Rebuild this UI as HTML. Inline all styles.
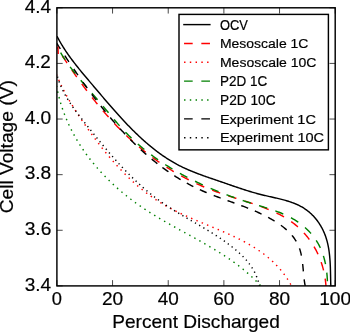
<!DOCTYPE html>
<html><head><meta charset="utf-8"><style>
html,body{margin:0;padding:0;background:#fff;width:350px;height:332px;overflow:hidden}
svg{position:absolute;left:0;top:0;display:block;will-change:transform}
text{font-family:"Liberation Sans",sans-serif;fill:#000;stroke:#000;stroke-width:0.2px}
</style></head><body>
<svg width="350" height="332" viewBox="0 0 350 332">
<defs><clipPath id="ax"><rect x="56.9" y="7.8" width="278.30" height="278.10"/></clipPath></defs>
<rect x="0" y="0" width="350" height="332" fill="#fff"/>
<g clip-path="url(#ax)" fill="none" stroke-width="1.44">
<path d="M57.00,36.25 L57.47,37.16 L57.95,38.06 L58.43,38.96 L58.92,39.85 L59.41,40.74 L59.91,41.62 L60.42,42.50 L60.93,43.37 L61.44,44.24 L61.97,45.10 L62.49,45.96 L63.02,46.82 L63.56,47.67 L64.10,48.51 L64.64,49.36 L65.19,50.19 L65.74,51.03 L66.30,51.86 L66.86,52.69 L67.43,53.51 L68.00,54.33 L68.57,55.14 L69.15,55.96 L69.73,56.77 L70.32,57.57 L70.91,58.38 L71.50,59.18 L72.09,59.97 L72.69,60.77 L73.29,61.56 L73.90,62.35 L74.50,63.14 L75.11,63.93 L75.73,64.71 L76.34,65.49 L76.96,66.27 L77.58,67.05 L78.20,67.82 L78.83,68.60 L79.45,69.37 L80.08,70.14 L80.71,70.91 L81.34,71.68 L81.98,72.44 L82.61,73.21 L83.25,73.97 L83.89,74.74 L84.53,75.50 L85.17,76.27 L85.81,77.03 L86.45,77.79 L87.10,78.55 L87.74,79.31 L88.39,80.07 L89.03,80.84 L89.68,81.60 L90.33,82.36 L90.97,83.12 L91.62,83.88 L92.27,84.64 L92.91,85.41 L93.56,86.17 L94.21,86.94 L94.86,87.70 L95.50,88.47 L96.15,89.23 L96.80,90.00 L97.45,90.76 L98.10,91.53 L98.74,92.29 L99.39,93.06 L100.04,93.83 L100.69,94.59 L101.34,95.36 L101.99,96.12 L102.65,96.89 L103.30,97.66 L103.95,98.42 L104.60,99.19 L105.26,99.95 L105.91,100.71 L106.57,101.48 L107.22,102.24 L107.88,103.00 L108.54,103.77 L109.20,104.53 L109.86,105.29 L110.52,106.05 L111.18,106.81 L111.84,107.56 L112.50,108.32 L113.17,109.08 L113.83,109.83 L114.50,110.59 L115.17,111.34 L115.84,112.09 L116.51,112.84 L117.18,113.59 L117.85,114.34 L118.52,115.09 L119.20,115.84 L119.88,116.58 L120.56,117.32 L121.23,118.06 L121.92,118.80 L122.60,119.54 L123.28,120.28 L123.97,121.01 L124.66,121.75 L125.35,122.48 L126.04,123.21 L126.73,123.93 L127.42,124.66 L128.12,125.38 L128.82,126.10 L129.52,126.82 L130.22,127.54 L130.92,128.26 L131.63,128.97 L132.34,129.68 L133.05,130.39 L133.76,131.09 L134.47,131.80 L135.19,132.50 L135.91,133.20 L136.63,133.89 L137.35,134.58 L138.07,135.27 L138.80,135.96 L139.53,136.65 L140.26,137.33 L141.00,138.01 L141.73,138.68 L142.47,139.36 L143.22,140.03 L143.96,140.69 L144.71,141.36 L145.46,142.02 L146.21,142.67 L146.96,143.33 L147.72,143.98 L148.48,144.62 L149.24,145.27 L150.01,145.90 L150.78,146.54 L151.55,147.17 L152.32,147.80 L153.10,148.42 L153.88,149.04 L154.66,149.65 L155.45,150.26 L156.23,150.87 L157.03,151.47 L157.82,152.07 L158.62,152.66 L159.42,153.24 L160.22,153.83 L161.03,154.41 L161.84,154.98 L162.66,155.55 L163.47,156.11 L164.29,156.67 L165.12,157.22 L165.94,157.77 L166.78,158.31 L167.61,158.85 L168.45,159.38 L169.29,159.91 L170.13,160.43 L170.98,160.94 L171.83,161.45 L172.69,161.96 L173.55,162.46 L174.41,162.95 L175.28,163.43 L176.15,163.91 L177.02,164.39 L177.90,164.85 L178.78,165.32 L179.66,165.77 L180.55,166.22 L181.45,166.66 L182.34,167.10 L183.24,167.53 L184.15,167.95 L185.05,168.37 L185.97,168.78 L186.88,169.19 L187.80,169.59 L188.71,169.99 L189.64,170.38 L190.56,170.77 L191.49,171.16 L192.42,171.53 L193.35,171.91 L194.28,172.28 L195.22,172.65 L196.16,173.01 L197.10,173.37 L198.04,173.73 L198.98,174.08 L199.93,174.43 L200.87,174.78 L201.82,175.13 L202.77,175.47 L203.71,175.81 L204.66,176.15 L205.61,176.48 L206.57,176.82 L207.52,177.15 L208.47,177.48 L209.42,177.81 L210.37,178.14 L211.33,178.46 L212.28,178.79 L213.23,179.12 L214.18,179.44 L215.13,179.76 L216.08,180.09 L217.03,180.41 L217.98,180.74 L218.93,181.06 L219.87,181.39 L220.82,181.71 L221.76,182.04 L222.71,182.36 L223.65,182.69 L224.59,183.02 L225.53,183.34 L226.47,183.67 L227.41,184.00 L228.35,184.32 L229.29,184.65 L230.23,184.97 L231.17,185.30 L232.11,185.62 L233.05,185.95 L233.99,186.27 L234.92,186.59 L235.86,186.91 L236.80,187.23 L237.74,187.55 L238.68,187.86 L239.63,188.18 L240.57,188.49 L241.51,188.80 L242.46,189.11 L243.40,189.41 L244.35,189.72 L245.30,190.02 L246.25,190.32 L247.20,190.62 L248.15,190.91 L249.10,191.21 L250.06,191.50 L251.01,191.78 L251.97,192.07 L252.94,192.35 L253.90,192.62 L254.86,192.90 L255.83,193.17 L256.80,193.44 L257.78,193.70 L258.75,193.96 L259.73,194.21 L260.71,194.46 L261.69,194.71 L262.68,194.96 L263.67,195.19 L264.66,195.43 L265.66,195.66 L266.65,195.89 L267.65,196.12 L268.65,196.35 L269.65,196.58 L270.65,196.80 L271.65,197.03 L272.65,197.25 L273.65,197.48 L274.65,197.70 L275.65,197.93 L276.65,198.17 L277.64,198.40 L278.64,198.64 L279.63,198.88 L280.61,199.12 L281.60,199.37 L282.58,199.63 L283.56,199.89 L284.54,200.15 L285.51,200.43 L286.47,200.71 L287.43,200.99 L288.39,201.29 L289.34,201.59 L290.28,201.91 L291.22,202.23 L292.15,202.56 L293.08,202.90 L294.00,203.25 L294.91,203.62 L295.81,203.99 L296.71,204.38 L297.59,204.78 L298.47,205.19 L299.34,205.62 L300.20,206.06 L301.05,206.52 L301.89,206.99 L302.72,207.47 L303.54,207.98 L304.34,208.49 L305.14,209.03 L305.93,209.58 L306.70,210.14 L307.47,210.72 L308.22,211.31 L308.96,211.92 L309.69,212.54 L310.41,213.18 L311.12,213.83 L311.81,214.49 L312.49,215.17 L313.17,215.86 L313.82,216.57 L314.47,217.28 L315.11,218.01 L315.73,218.75 L316.34,219.51 L316.93,220.27 L317.52,221.05 L318.09,221.84 L318.65,222.63 L319.19,223.45 L319.72,224.27 L320.24,225.10 L320.75,225.94 L321.24,226.79 L321.72,227.66 L322.18,228.53 L322.63,229.41 L323.07,230.30 L323.49,231.20 L323.90,232.11 L324.30,233.02 L324.68,233.95 L325.04,234.88 L325.39,235.83 L325.73,236.78 L326.05,237.73 L326.36,238.70 L326.65,239.67 L326.93,240.65 L327.19,241.63 L327.44,242.62 L327.68,243.62 L327.90,244.62 L328.11,245.63 L328.31,246.64 L328.50,247.65 L328.67,248.67 L328.84,249.69 L328.99,250.72 L329.14,251.75 L329.27,252.78 L329.40,253.81 L329.51,254.85 L329.62,255.88 L329.72,256.92 L329.81,257.96 L329.90,259.00 L329.97,260.04 L330.05,261.08 L330.11,262.11 L330.17,263.15 L330.22,264.19 L330.27,265.22 L330.32,266.25 L330.36,267.28 L330.39,268.31 L330.42,269.33 L330.45,270.35 L330.48,271.36 L330.50,272.38 L330.53,273.38 L330.55,274.39 L330.57,275.38 L330.59,276.37 L330.61,277.36 L330.63,278.34 L330.65,279.31 L330.67,280.28 L330.69,281.23 L330.71,282.18 L330.74,283.13 L330.77,284.06 L330.80,284.99 L330.83,285.90 L330.87,286.81" stroke="#000"/>
<path d="M56.45,47.04 L56.65,47.35 L56.85,47.66 L57.05,47.97 L57.25,48.28 L57.46,48.60 L57.56,48.76 M62.26,55.89 L62.99,56.98 L63.82,58.22 L64.65,59.47 L65.48,60.71 L66.32,61.95 L67.01,62.98 M71.84,70.02 L72.60,71.11 L73.47,72.34 L74.33,73.58 L75.20,74.81 L76.08,76.05 L76.75,77.00 M81.76,83.91 L82.52,84.95 L83.31,86.02 L84.11,87.08 L84.90,88.15 L85.70,89.21 L86.50,90.27 L86.87,90.75 M92.09,97.50 L92.90,98.54 L93.73,99.58 L94.56,100.62 L95.40,101.65 L96.24,102.69 L97.08,103.72 L97.43,104.16 M102.91,110.70 L103.67,111.59 L104.54,112.60 L105.42,113.60 L106.29,114.60 L107.17,115.60 L108.06,116.59 L108.53,117.12 M114.31,123.41 L115.12,124.27 L116.04,125.24 L116.96,126.19 L117.88,127.15 L118.81,128.09 L119.74,129.04 L120.24,129.54 M126.34,135.51 L127.32,136.44 L128.43,137.47 L129.54,138.50 L130.65,139.52 L131.77,140.53 L132.62,141.29 M139.07,146.88 L140.05,147.70 L141.06,148.54 L142.08,149.37 L143.11,150.20 L144.13,151.03 L145.17,151.85 L145.69,152.27 M152.48,157.44 L153.56,158.23 L154.77,159.12 L156.00,159.99 L157.22,160.86 L158.46,161.72 L159.43,162.40 M166.54,167.12 L167.69,167.86 L168.97,168.66 L170.24,169.46 L171.52,170.24 L172.81,171.02 L173.80,171.61 M181.20,175.85 L182.27,176.44 L183.43,177.07 L184.59,177.69 L185.76,178.30 L186.92,178.91 L188.10,179.51 L188.75,179.84 M196.43,183.57 L197.59,184.10 L198.79,184.65 L200.00,185.19 L201.20,185.72 L202.42,186.25 L203.63,186.77 L204.23,187.02 M212.16,190.20 L213.29,190.63 L214.53,191.09 L215.78,191.54 L217.02,191.99 L218.28,192.44 L219.53,192.88 L220.18,193.11 M228.27,195.82 L229.45,196.20 L230.72,196.61 L231.99,197.02 L233.27,197.42 L234.54,197.83 L235.81,198.23 L236.40,198.42 M244.54,201.00 L245.65,201.35 L246.93,201.76 L248.20,202.18 L249.48,202.59 L250.75,203.01 L252.02,203.43 L252.65,203.64 M260.72,206.44 L261.95,206.89 L263.20,207.36 L264.45,207.83 L265.69,208.31 L266.93,208.80 L268.16,209.30 L268.68,209.51 M276.48,212.97 L277.63,213.54 L278.81,214.12 L279.97,214.72 L281.13,215.34 L282.27,215.96 L283.41,216.60 L284.03,216.96 M291.20,221.57 L292.26,222.35 L293.44,223.24 L294.61,224.15 L295.75,225.09 L296.88,226.04 L297.87,226.90 M303.93,232.90 L304.90,233.98 L305.87,235.11 L306.81,236.25 L307.74,237.41 L308.65,238.59 L309.34,239.50 M314.04,246.62 L314.71,247.79 L315.44,249.11 L316.15,250.44 L316.83,251.78 L317.49,253.14 L317.98,254.19 M321.15,262.11 L321.52,263.22 L321.93,264.50 L322.32,265.78 L322.70,267.08 L323.05,268.38 L323.39,269.69 L323.54,270.30 M325.16,278.68 L325.35,279.97 L325.52,281.33 L325.67,282.69 L325.80,284.05 L325.91,285.41 L326.01,286.78 L326.03,287.17" stroke="#ff0000"/>
<path d="M56.46,74.41 L56.76,75.16 L57.06,75.91 L57.37,76.66 L57.68,77.41 L57.99,78.16 L58.31,78.90 L58.63,79.64 L58.96,80.38 L59.29,81.12 L59.62,81.86 L59.95,82.60 L60.29,83.33 L60.64,84.06 L60.98,84.80 L61.33,85.53 L61.68,86.25 L62.04,86.98 L62.40,87.71 L62.76,88.43 L63.13,89.15 L63.49,89.87 L63.87,90.59 L64.24,91.31 L64.62,92.03 L65.00,92.75 L65.38,93.46 L65.77,94.17 L66.15,94.89 L66.55,95.60 L66.94,96.31 L67.34,97.01 L67.74,97.72 L68.14,98.43 L68.54,99.13 L68.95,99.84 L69.36,100.54 L69.77,101.24 L70.18,101.94 L70.60,102.64 L71.02,103.34 L71.44,104.04 L71.86,104.73 L72.29,105.43 L72.71,106.12 L73.14,106.82 L73.57,107.51 L74.01,108.20 L74.44,108.89 L74.88,109.58 L75.32,110.27 L75.76,110.96 L76.20,111.65 L76.65,112.34 L77.09,113.02 L77.54,113.71 L77.99,114.39 L78.44,115.08 L78.89,115.76 L79.34,116.45 L79.80,117.13 L80.26,117.81 L80.71,118.49 L81.17,119.17 L81.63,119.85 L82.09,120.53 L82.56,121.21 L83.02,121.89 L83.49,122.56 L83.95,123.24 L84.42,123.92 L84.89,124.60 L85.35,125.27 L85.82,125.95 L86.30,126.62 L86.77,127.30 L87.24,127.97 L87.71,128.64 L88.19,129.32 L88.67,129.99 L89.14,130.66 L89.62,131.33 L90.10,132.00 L90.58,132.67 L91.06,133.34 L91.54,134.01 L92.03,134.68 L92.51,135.34 L93.00,136.01 L93.49,136.68 L93.97,137.34 L94.46,138.00 L94.96,138.67 L95.45,139.33 L95.94,139.99 L96.43,140.65 L96.93,141.31 L97.43,141.97 L97.93,142.62 L98.43,143.28 L98.93,143.93 L99.43,144.59 L99.93,145.24 L100.44,145.89 L100.94,146.54 L101.45,147.19 L101.96,147.84 L102.47,148.49 L102.98,149.13 L103.49,149.78 L104.00,150.42 L104.52,151.06 L105.04,151.70 L105.55,152.34 L106.07,152.98 L106.60,153.62 L107.12,154.25 L107.64,154.89 L108.17,155.52 L108.69,156.15 L109.22,156.78 L109.75,157.41 L110.28,158.03 L110.82,158.66 L111.35,159.28 L111.89,159.90 L112.42,160.52 L112.96,161.14 L113.50,161.76 L114.04,162.38 L114.59,162.99 L115.13,163.60 L115.68,164.21 L116.23,164.82 L116.78,165.43 L117.33,166.03 L117.88,166.64 L118.44,167.24 L118.99,167.84 L119.55,168.43 L120.11,169.03 L120.67,169.62 L121.24,170.22 L121.80,170.81 L122.37,171.39 L122.94,171.98 L123.51,172.56 L124.08,173.15 L124.65,173.73 L125.23,174.30 L125.81,174.88 L126.39,175.45 L126.97,176.03 L127.55,176.60 L128.13,177.16 L128.72,177.73 L129.31,178.29 L129.90,178.85 L130.49,179.41 L131.08,179.97 L131.68,180.52 L132.28,181.07 L132.88,181.62 L133.48,182.17 L134.08,182.71 L134.69,183.25 L135.29,183.79 L135.90,184.33 L136.51,184.86 L137.13,185.40 L137.74,185.93 L138.36,186.45 L138.98,186.98 L139.60,187.50 L140.22,188.02 L140.85,188.53 L141.47,189.05 L142.10,189.56 L142.73,190.07 L143.37,190.57 L144.00,191.08 L144.64,191.58 L145.28,192.08 L145.92,192.57 L146.56,193.06 L147.21,193.55 L147.86,194.04 L148.51,194.52 L149.16,195.00 L149.82,195.48 L150.47,195.95 L151.13,196.43 L151.79,196.90 L152.46,197.36 L153.12,197.82 L153.79,198.28 L154.46,198.74 L155.13,199.19 L155.81,199.64 L156.48,200.09 L157.16,200.54 L157.84,200.98 L158.53,201.42 L159.21,201.85 L159.90,202.28 L160.59,202.71 L161.29,203.13 L161.98,203.56 L162.68,203.97 L163.38,204.39 L164.08,204.80 L164.79,205.21 L165.50,205.62 L166.20,206.02 L166.92,206.42 L167.63,206.81 L168.34,207.21 L169.06,207.60 L169.78,207.99 L170.50,208.37 L171.23,208.75 L171.95,209.13 L172.68,209.51 L173.41,209.89 L174.14,210.26 L174.87,210.63 L175.60,210.99 L176.34,211.36 L177.08,211.72 L177.82,212.08 L178.56,212.44 L179.30,212.80 L180.04,213.15 L180.78,213.51 L181.53,213.86 L182.28,214.21 L183.02,214.55 L183.77,214.90 L184.52,215.24 L185.28,215.58 L186.03,215.92 L186.78,216.26 L187.54,216.60 L188.29,216.93 L189.05,217.27 L189.81,217.60 L190.57,217.93 L191.33,218.26 L192.09,218.59 L192.85,218.92 L193.61,219.25 L194.37,219.58 L195.13,219.90 L195.90,220.23 L196.66,220.55 L197.42,220.87 L198.19,221.19 L198.95,221.52 L199.72,221.84 L200.49,222.16 L201.25,222.48 L202.02,222.80 L202.79,223.11 L203.55,223.43 L204.32,223.75 L205.09,224.07 L205.85,224.39 L206.62,224.70 L207.39,225.02 L208.15,225.34 L208.92,225.66 L209.69,225.97 L210.45,226.29 L211.22,226.61 L211.98,226.93 L212.75,227.25 L213.52,227.57 L214.28,227.89 L215.04,228.21 L215.81,228.53 L216.57,228.85 L217.33,229.17 L218.10,229.49 L218.86,229.81 L219.62,230.14 L220.38,230.46 L221.14,230.79 L221.90,231.11 L222.65,231.44 L223.41,231.77 L224.17,232.10 L224.92,232.43 L225.67,232.76 L226.43,233.10 L227.18,233.43 L227.93,233.77 L228.68,234.10 L229.43,234.44 L230.17,234.78 L230.92,235.13 L231.66,235.47 L232.41,235.82 L233.15,236.16 L233.89,236.51 L234.63,236.86 L235.36,237.22 L236.10,237.57 L236.83,237.93 L237.57,238.29 L238.30,238.65 L239.02,239.01 L239.75,239.38 L240.48,239.75 L241.20,240.12 L241.92,240.49 L242.64,240.87 L243.36,241.24 L244.07,241.63 L244.79,242.01 L245.50,242.39 L246.21,242.78 L246.91,243.17 L247.62,243.57 L248.32,243.97 L249.02,244.37 L249.72,244.77 L250.41,245.18 L251.11,245.59 L251.80,246.00 L252.48,246.41 L253.17,246.83 L253.85,247.26 L254.53,247.68 L255.21,248.11 L255.89,248.54 L256.56,248.98 L257.23,249.42 L257.89,249.86 L258.56,250.31 L259.22,250.76 L259.88,251.22 L260.53,251.68 L261.18,252.14 L261.83,252.61 L262.48,253.08 L263.12,253.55 L263.76,254.03 L264.39,254.52 L265.03,255.01 L265.66,255.50 L266.28,255.99 L266.90,256.50 L267.52,257.00 L268.14,257.51 L268.75,258.03 L269.36,258.55 L269.96,259.07 L270.57,259.60 L271.16,260.13 L271.76,260.67 L272.35,261.21 L272.93,261.76 L273.52,262.32 L274.10,262.87 L274.67,263.44 L275.24,264.01 L275.81,264.58 L276.37,265.16 L276.93,265.75 L277.48,266.34 L278.03,266.93 L278.58,267.53 L279.12,268.14 L279.66,268.75 L280.19,269.37 L280.72,269.99 L281.25,270.62 L281.77,271.26 L282.28,271.90 L282.79,272.55 L283.30,273.20 L283.80,273.86 L284.30,274.53 L284.79,275.20 L285.28,275.88 L285.76,276.56 L286.24,277.25 L286.71,277.95 L287.18,278.65 L287.65,279.36 L288.11,280.08 L288.56,280.80 L289.01,281.53 L289.45,282.27 L289.89,283.01 L290.32,283.76 L290.75,284.52 L291.17,285.28 L291.59,286.06 L292.00,286.83" stroke="#ff0000" stroke-dasharray="1.44 4.32"/>
<path d="M60.62,52.57 L61.23,53.60 L61.92,54.76 L62.63,55.91 L63.34,57.05 L64.07,58.18 L64.80,59.30 L65.15,59.83 M70.08,66.83 L70.85,67.86 L71.65,68.92 L72.46,69.98 L73.27,71.03 L74.09,72.07 L74.92,73.12 L75.32,73.61 M80.77,80.22 L81.57,81.16 L82.43,82.18 L83.29,83.19 L84.16,84.20 L85.03,85.20 L85.90,86.21 L86.34,86.72 M91.97,93.18 L92.78,94.11 L93.66,95.13 L94.53,96.14 L95.41,97.15 L96.28,98.17 L97.15,99.19 L97.56,99.67 M103.06,106.23 L103.81,107.14 L104.67,108.17 L105.53,109.21 L106.39,110.25 L107.25,111.29 L108.11,112.33 L108.52,112.83 M114.02,119.39 L114.79,120.29 L115.67,121.31 L116.55,122.33 L117.43,123.35 L118.32,124.36 L119.21,125.37 L119.64,125.85 M125.45,132.14 L126.37,133.10 L127.31,134.05 L128.25,135.00 L129.20,135.95 L130.15,136.88 L131.11,137.81 L131.51,138.19 M137.83,143.98 L138.71,144.75 L139.71,145.62 L140.73,146.48 L141.75,147.34 L142.77,148.19 L143.80,149.03 L144.37,149.50 M151.13,154.76 L152.05,155.45 L153.13,156.24 L154.20,157.02 L155.28,157.80 L156.37,158.57 L157.46,159.33 L158.08,159.77 M165.20,164.53 L166.32,165.24 L167.45,165.95 L168.58,166.66 L169.71,167.36 L170.84,168.06 L171.99,168.75 L172.48,169.04 M179.89,173.33 L180.89,173.89 L182.06,174.53 L183.24,175.17 L184.41,175.80 L185.59,176.43 L186.77,177.05 L187.43,177.40 M195.07,181.25 L196.13,181.77 L197.34,182.35 L198.54,182.92 L199.75,183.49 L200.96,184.05 L202.17,184.61 L202.82,184.91 M210.65,188.38 L211.75,188.85 L212.98,189.37 L214.21,189.88 L215.44,190.39 L216.67,190.90 L217.90,191.40 L218.56,191.67 M226.53,194.78 L227.66,195.20 L228.91,195.67 L230.17,196.13 L231.42,196.59 L232.68,197.04 L233.94,197.49 L234.58,197.72 M242.68,200.50 L243.91,200.91 L245.19,201.33 L246.48,201.74 L247.76,202.15 L249.05,202.56 L250.34,202.97 L250.83,203.12 M259.02,205.62 L260.18,205.97 L261.48,206.36 L262.79,206.76 L264.09,207.16 L265.38,207.57 L266.68,207.97 L267.21,208.14 M275.32,210.88 L276.56,211.33 L277.82,211.80 L279.07,212.28 L280.32,212.77 L281.55,213.28 L282.78,213.80 L283.29,214.01 M291.00,217.75 L292.13,218.37 L293.27,219.03 L294.40,219.70 L295.51,220.39 L296.62,221.11 L297.71,221.83 L298.29,222.23 M305.02,227.52 L306.03,228.42 L307.11,229.44 L308.16,230.48 L309.20,231.55 L310.20,232.63 L311.05,233.59 M316.22,240.41 L316.91,241.51 L317.59,242.62 L318.24,243.76 L318.87,244.91 L319.48,246.08 L320.06,247.26 L320.36,247.90 M323.41,255.90 L323.77,257.09 L324.14,258.40 L324.49,259.71 L324.82,261.04 L325.12,262.37 L325.41,263.71 L325.51,264.20 M326.79,272.66 L326.93,274.03 L327.06,275.40 L327.16,276.78 L327.25,278.15 L327.32,279.52 L327.38,280.89 L327.39,281.20" stroke="#008000"/>
<path d="M56.53,85.80 L56.67,86.56 L56.81,87.31 L56.95,88.06 L57.10,88.81 L57.25,89.55 L57.41,90.30 L57.56,91.04 L57.72,91.79 L57.89,92.53 L58.06,93.27 L58.23,94.01 L58.40,94.74 L58.58,95.48 L58.77,96.21 L58.95,96.95 L59.14,97.68 L59.33,98.41 L59.53,99.13 L59.73,99.86 L59.93,100.59 L60.13,101.31 L60.34,102.03 L60.55,102.75 L60.77,103.47 L60.99,104.19 L61.21,104.90 L61.44,105.62 L61.66,106.33 L61.90,107.04 L62.13,107.75 L62.37,108.46 L62.61,109.17 L62.85,109.88 L63.10,110.58 L63.35,111.28 L63.61,111.98 L63.86,112.68 L64.12,113.38 L64.39,114.08 L64.65,114.77 L64.92,115.47 L65.20,116.16 L65.47,116.85 L65.75,117.54 L66.03,118.22 L66.32,118.91 L66.61,119.59 L66.90,120.28 L67.19,120.96 L67.49,121.64 L67.79,122.32 L68.09,122.99 L68.40,123.67 L68.70,124.34 L69.02,125.01 L69.33,125.68 L69.65,126.35 L69.97,127.02 L70.29,127.69 L70.62,128.35 L70.95,129.01 L71.28,129.67 L71.61,130.33 L71.95,130.99 L72.29,131.65 L72.63,132.30 L72.98,132.96 L73.33,133.61 L73.68,134.26 L74.03,134.91 L74.39,135.55 L74.75,136.20 L75.11,136.84 L75.48,137.48 L75.84,138.13 L76.21,138.76 L76.59,139.40 L76.96,140.04 L77.34,140.67 L77.72,141.30 L78.10,141.94 L78.49,142.57 L78.88,143.19 L79.27,143.82 L79.66,144.44 L80.06,145.07 L80.46,145.69 L80.86,146.31 L81.26,146.93 L81.67,147.54 L82.08,148.16 L82.49,148.77 L82.90,149.39 L83.32,150.00 L83.74,150.60 L84.16,151.21 L84.58,151.82 L85.01,152.42 L85.44,153.02 L85.87,153.62 L86.30,154.22 L86.74,154.82 L87.17,155.42 L87.61,156.01 L88.06,156.60 L88.50,157.19 L88.95,157.78 L89.40,158.37 L89.85,158.95 L90.30,159.54 L90.76,160.12 L91.22,160.70 L91.68,161.28 L92.14,161.86 L92.60,162.44 L93.07,163.01 L93.54,163.58 L94.01,164.15 L94.49,164.72 L94.96,165.29 L95.44,165.86 L95.92,166.42 L96.40,166.98 L96.89,167.54 L97.37,168.10 L97.86,168.66 L98.35,169.22 L98.84,169.77 L99.34,170.32 L99.84,170.88 L100.33,171.42 L100.83,171.97 L101.34,172.52 L101.84,173.06 L102.35,173.60 L102.86,174.15 L103.37,174.68 L103.88,175.22 L104.39,175.76 L104.91,176.29 L105.43,176.82 L105.95,177.36 L106.47,177.88 L106.99,178.41 L107.52,178.94 L108.05,179.46 L108.58,179.98 L109.11,180.50 L109.64,181.02 L110.17,181.54 L110.71,182.05 L111.25,182.57 L111.79,183.08 L112.33,183.59 L112.87,184.10 L113.42,184.60 L113.96,185.11 L114.51,185.61 L115.06,186.11 L115.61,186.61 L116.17,187.11 L116.72,187.61 L117.28,188.10 L117.84,188.60 L118.40,189.09 L118.96,189.58 L119.52,190.06 L120.09,190.55 L120.65,191.03 L121.22,191.52 L121.79,192.00 L122.36,192.48 L122.93,192.95 L123.51,193.43 L124.08,193.90 L124.66,194.37 L125.24,194.84 L125.82,195.31 L126.40,195.78 L126.98,196.24 L127.56,196.71 L128.15,197.17 L128.74,197.63 L129.32,198.08 L129.91,198.54 L130.51,198.99 L131.10,199.45 L131.69,199.90 L132.29,200.35 L132.88,200.79 L133.48,201.24 L134.08,201.68 L134.68,202.12 L135.28,202.56 L135.88,203.00 L136.48,203.44 L137.09,203.87 L137.70,204.30 L138.30,204.73 L138.91,205.16 L139.52,205.59 L140.13,206.02 L140.74,206.44 L141.36,206.86 L141.97,207.28 L142.59,207.70 L143.20,208.12 L143.82,208.53 L144.44,208.94 L145.06,209.35 L145.68,209.76 L146.30,210.17 L146.92,210.58 L147.55,210.98 L148.17,211.39 L148.80,211.79 L149.42,212.19 L150.05,212.59 L150.68,212.98 L151.31,213.38 L151.94,213.77 L152.57,214.17 L153.20,214.56 L153.83,214.95 L154.47,215.34 L155.10,215.72 L155.74,216.11 L156.37,216.50 L157.01,216.88 L157.64,217.26 L158.28,217.64 L158.92,218.03 L159.56,218.41 L160.20,218.78 L160.84,219.16 L161.48,219.54 L162.12,219.91 L162.76,220.29 L163.40,220.66 L164.05,221.03 L164.69,221.40 L165.33,221.78 L165.98,222.15 L166.62,222.51 L167.27,222.88 L167.91,223.25 L168.56,223.62 L169.21,223.98 L169.85,224.35 L170.50,224.71 L171.15,225.08 L171.80,225.44 L172.44,225.81 L173.09,226.17 L173.74,226.53 L174.39,226.89 L175.04,227.25 L175.69,227.61 L176.34,227.97 L176.99,228.33 L177.64,228.69 L178.29,229.05 L178.94,229.41 L179.59,229.77 L180.24,230.13 L180.89,230.48 L181.54,230.84 L182.19,231.20 L182.84,231.56 L183.49,231.91 L184.14,232.27 L184.79,232.63 L185.44,232.99 L186.09,233.34 L186.74,233.70 L187.39,234.06 L188.04,234.41 L188.69,234.77 L189.34,235.13 L189.99,235.49 L190.64,235.84 L191.29,236.20 L191.94,236.56 L192.59,236.92 L193.24,237.28 L193.89,237.63 L194.54,237.99 L195.18,238.35 L195.83,238.71 L196.48,239.07 L197.13,239.43 L197.77,239.79 L198.42,240.15 L199.06,240.52 L199.71,240.88 L200.35,241.24 L201.00,241.60 L201.64,241.97 L202.29,242.33 L202.93,242.70 L203.57,243.06 L204.21,243.43 L204.85,243.80 L205.49,244.17 L206.13,244.54 L206.77,244.90 L207.41,245.28 L208.05,245.65 L208.69,246.02 L209.33,246.39 L209.96,246.77 L210.60,247.14 L211.23,247.52 L211.87,247.89 L212.50,248.27 L213.13,248.65 L213.76,249.03 L214.39,249.41 L215.02,249.79 L215.65,250.18 L216.28,250.56 L216.91,250.95 L217.54,251.34 L218.16,251.72 L218.79,252.11 L219.41,252.51 L220.03,252.90 L220.65,253.29 L221.28,253.69 L221.89,254.08 L222.51,254.48 L223.13,254.88 L223.75,255.28 L224.36,255.68 L224.98,256.09 L225.59,256.49 L226.20,256.90 L226.81,257.31 L227.42,257.72 L228.03,258.13 L228.64,258.55 L229.25,258.96 L229.85,259.38 L230.45,259.80 L231.06,260.22 L231.66,260.64 L232.26,261.07 L232.86,261.49 L233.45,261.92 L234.05,262.35 L234.64,262.79 L235.23,263.22 L235.83,263.66 L236.42,264.10 L237.01,264.54 L237.59,264.98 L238.18,265.42 L238.76,265.87 L239.34,266.32 L239.93,266.77 L240.50,267.22 L241.08,267.68 L241.66,268.14 L242.23,268.60 L242.81,269.06 L243.38,269.53 L243.95,269.99 L244.52,270.46 L245.08,270.93 L245.65,271.41 L246.21,271.89 L246.77,272.37 L247.33,272.85 L247.89,273.33 L248.44,273.82 L249.00,274.31 L249.55,274.80 L250.10,275.30 L250.65,275.80 L251.20,276.30 L251.74,276.80 L252.28,277.31 L252.83,277.82 L253.36,278.33 L253.90,278.84 L254.44,279.36 L254.97,279.88 L255.50,280.40 L256.03,280.93 L256.56,281.46 L257.08,281.99 L257.60,282.53 L258.12,283.06 L258.64,283.61 L259.16,284.15 L259.67,284.70 L260.19,285.25 L260.70,285.80 L261.20,286.36" stroke="#008000" stroke-dasharray="1.44 4.32"/>
<path d="M56.36,42.77 L56.98,43.74 L57.66,44.77 L58.33,45.81 L59.01,46.85 L59.68,47.89 L60.36,48.93 L60.39,48.98 M64.78,55.65 L65.47,56.70 L66.17,57.75 L66.86,58.80 L67.56,59.84 L68.27,60.89 L68.88,61.81 M73.74,69.00 L74.37,69.91 L75.09,70.96 L75.81,72.01 L76.54,73.06 L77.27,74.11 L77.95,75.09 M82.86,82.07 L83.60,83.11 L84.35,84.15 L85.11,85.20 L85.86,86.24 L86.62,87.29 L87.19,88.07 M91.77,94.27 L92.54,95.30 L93.32,96.33 L94.11,97.37 L94.89,98.40 L95.68,99.43 L96.24,100.16 M100.85,106.06 L101.61,107.01 L102.42,108.03 L103.23,109.04 L104.04,110.05 L104.86,111.06 L105.49,111.83 M110.27,117.57 L111.03,118.47 L111.87,119.45 L112.71,120.44 L113.56,121.42 L114.41,122.40 L115.10,123.18 M120.08,128.75 L120.95,129.71 L121.83,130.66 L122.71,131.61 L123.59,132.55 L124.48,133.49 L125.12,134.17 M130.41,139.62 L131.30,140.51 L132.21,141.42 L133.13,142.32 L134.05,143.23 L134.97,144.12 L135.68,144.81 M140.82,149.64 L141.67,150.41 L142.63,151.28 L143.58,152.14 L144.54,152.99 L145.50,153.84 L146.34,154.57 M151.64,159.06 L152.62,159.87 L153.62,160.68 L154.61,161.48 L155.61,162.28 L156.62,163.07 L157.41,163.69 M162.40,167.48 L163.30,168.14 L164.34,168.89 L165.37,169.64 L166.41,170.37 L167.45,171.11 L168.43,171.78 M174.34,175.72 L175.33,176.36 L176.41,177.04 L177.49,177.71 L178.57,178.38 L179.66,179.04 L180.63,179.62 M186.79,183.15 L187.88,183.74 L189.00,184.35 L190.13,184.94 L191.27,185.53 L192.40,186.12 L193.34,186.59 M199.88,189.72 L200.98,190.21 L202.15,190.73 L203.33,191.25 L204.51,191.76 L205.69,192.26 L206.67,192.66 M213.72,195.47 L214.76,195.87 L215.97,196.33 L217.18,196.79 L218.39,197.24 L219.60,197.69 L220.65,198.07 M227.52,200.57 L228.65,200.98 L229.87,201.41 L231.09,201.85 L232.31,202.29 L233.53,202.73 L234.48,203.08 M241.21,205.55 L242.37,205.99 L243.58,206.45 L244.79,206.91 L245.99,207.38 L247.19,207.85 L248.12,208.21 M254.82,210.98 L255.85,211.43 L257.02,211.94 L258.19,212.47 L259.35,213.00 L260.51,213.54 L261.56,214.03 M268.13,217.36 L269.13,217.90 L270.24,218.52 L271.35,219.15 L272.45,219.79 L273.54,220.44 L274.55,221.05 M280.90,225.29 L281.85,225.98 L282.85,226.75 L283.84,227.53 L284.82,228.33 L285.78,229.15 L286.66,229.93 M291.98,235.40 L292.72,236.30 L293.48,237.28 L294.21,238.28 L294.92,239.30 L295.60,240.34 L296.25,241.41 L296.26,241.43 M299.49,248.39 L299.81,249.33 L300.14,250.40 L300.45,251.48 L300.74,252.58 L301.01,253.69 L301.25,254.81 L301.40,255.53 M302.65,263.98 L302.76,265.00 L302.88,266.16 L303.00,267.32 L303.10,268.48 L303.21,269.64 L303.31,270.79 L303.36,271.35 M304.16,279.46 L304.29,280.50 L304.46,281.70 L304.65,282.87 L304.85,284.01 L305.07,285.13 L305.31,286.21 L305.42,286.66" stroke="#000"/>
<path d="M57.51,76.58 L57.73,77.33 L57.95,78.08 L58.18,78.81 L58.42,79.55 L58.66,80.28 L58.91,81.00 L59.16,81.72 L59.42,82.44 L59.69,83.15 L59.96,83.86 L60.24,84.57 L60.52,85.27 L60.81,85.97 L61.11,86.66 L61.41,87.35 L61.72,88.03 L62.03,88.71 L62.35,89.39 L62.67,90.07 L63.00,90.74 L63.33,91.41 L63.67,92.07 L64.01,92.73 L64.35,93.39 L64.70,94.05 L65.06,94.70 L65.42,95.35 L65.79,96.00 L66.15,96.64 L66.53,97.28 L66.90,97.92 L67.28,98.56 L67.67,99.19 L68.06,99.82 L68.45,100.45 L68.84,101.07 L69.24,101.70 L69.65,102.32 L70.05,102.94 L70.46,103.56 L70.87,104.17 L71.29,104.78 L71.71,105.40 L72.13,106.01 L72.55,106.61 L72.98,107.22 L73.41,107.82 L73.84,108.43 L74.27,109.03 L74.71,109.63 L75.15,110.23 L75.59,110.83 L76.03,111.42 L76.47,112.02 L76.92,112.61 L77.37,113.21 L77.82,113.80 L78.27,114.39 L78.72,114.98 L79.18,115.57 L79.63,116.16 L80.09,116.75 L80.55,117.34 L81.00,117.93 L81.46,118.52 L81.92,119.10 L82.39,119.69 L82.85,120.28 L83.31,120.86 L83.77,121.45 L84.24,122.04 L84.70,122.63 L85.16,123.21 L85.63,123.80 L86.09,124.39 L86.56,124.97 L87.02,125.56 L87.49,126.15 L87.95,126.74 L88.42,127.32 L88.89,127.91 L89.35,128.50 L89.82,129.09 L90.29,129.67 L90.75,130.26 L91.22,130.85 L91.69,131.43 L92.16,132.02 L92.63,132.61 L93.10,133.19 L93.57,133.78 L94.04,134.37 L94.51,134.95 L94.98,135.54 L95.46,136.12 L95.93,136.71 L96.40,137.29 L96.88,137.88 L97.35,138.46 L97.82,139.04 L98.30,139.63 L98.78,140.21 L99.25,140.79 L99.73,141.38 L100.21,141.96 L100.68,142.54 L101.16,143.12 L101.64,143.70 L102.12,144.28 L102.60,144.86 L103.08,145.44 L103.57,146.02 L104.05,146.60 L104.53,147.18 L105.02,147.75 L105.50,148.33 L105.98,148.90 L106.47,149.48 L106.96,150.05 L107.44,150.63 L107.93,151.20 L108.42,151.77 L108.91,152.35 L109.40,152.92 L109.89,153.49 L110.38,154.06 L110.88,154.63 L111.37,155.19 L111.86,155.76 L112.36,156.33 L112.85,156.89 L113.35,157.46 L113.85,158.02 L114.35,158.59 L114.84,159.15 L115.34,159.71 L115.85,160.27 L116.35,160.83 L116.85,161.39 L117.35,161.95 L117.86,162.50 L118.36,163.06 L118.87,163.62 L119.38,164.17 L119.88,164.72 L120.39,165.27 L120.90,165.82 L121.41,166.37 L121.93,166.92 L122.44,167.47 L122.95,168.02 L123.47,168.56 L123.98,169.10 L124.50,169.65 L125.02,170.19 L125.54,170.73 L126.06,171.27 L126.58,171.80 L127.10,172.34 L127.63,172.88 L128.15,173.41 L128.68,173.94 L129.20,174.47 L129.73,175.00 L130.26,175.53 L130.79,176.06 L131.32,176.59 L131.85,177.11 L132.39,177.63 L132.92,178.15 L133.46,178.67 L134.00,179.19 L134.54,179.71 L135.07,180.23 L135.62,180.74 L136.16,181.25 L136.70,181.76 L137.25,182.27 L137.79,182.78 L138.34,183.29 L138.89,183.79 L139.44,184.29 L139.99,184.80 L140.54,185.29 L141.10,185.79 L141.65,186.29 L142.21,186.78 L142.76,187.28 L143.32,187.77 L143.88,188.26 L144.45,188.74 L145.01,189.23 L145.57,189.71 L146.14,190.20 L146.71,190.68 L147.28,191.16 L147.85,191.63 L148.42,192.11 L148.99,192.58 L149.57,193.05 L150.14,193.52 L150.72,193.99 L151.30,194.45 L151.88,194.91 L152.46,195.38 L153.05,195.84 L153.63,196.29 L154.22,196.75 L154.81,197.20 L155.40,197.65 L155.99,198.10 L156.58,198.55 L157.18,198.99 L157.77,199.43 L158.37,199.87 L158.97,200.31 L159.57,200.75 L160.18,201.18 L160.78,201.61 L161.39,202.04 L161.99,202.47 L162.60,202.89 L163.21,203.32 L163.83,203.74 L164.44,204.16 L165.06,204.57 L165.67,204.99 L166.29,205.40 L166.91,205.82 L167.53,206.22 L168.15,206.63 L168.78,207.04 L169.40,207.44 L170.03,207.85 L170.65,208.25 L171.28,208.65 L171.91,209.05 L172.54,209.45 L173.17,209.84 L173.80,210.24 L174.43,210.63 L175.07,211.02 L175.70,211.41 L176.34,211.80 L176.97,212.19 L177.61,212.58 L178.25,212.97 L178.89,213.35 L179.53,213.74 L180.17,214.12 L180.81,214.50 L181.45,214.88 L182.09,215.27 L182.73,215.65 L183.38,216.03 L184.02,216.41 L184.66,216.79 L185.31,217.16 L185.95,217.54 L186.60,217.92 L187.24,218.30 L187.89,218.67 L188.53,219.05 L189.18,219.42 L189.83,219.80 L190.47,220.18 L191.12,220.55 L191.77,220.93 L192.41,221.30 L193.06,221.68 L193.71,222.05 L194.35,222.43 L195.00,222.80 L195.65,223.18 L196.29,223.55 L196.94,223.93 L197.58,224.31 L198.23,224.68 L198.87,225.06 L199.52,225.44 L200.16,225.82 L200.81,226.20 L201.45,226.57 L202.10,226.95 L202.74,227.33 L203.38,227.72 L204.03,228.10 L204.67,228.48 L205.31,228.86 L205.95,229.25 L206.59,229.63 L207.23,230.02 L207.87,230.41 L208.50,230.79 L209.14,231.18 L209.78,231.57 L210.41,231.96 L211.05,232.36 L211.68,232.75 L212.31,233.15 L212.94,233.54 L213.57,233.94 L214.20,234.34 L214.83,234.74 L215.46,235.14 L216.09,235.55 L216.71,235.95 L217.34,236.36 L217.96,236.77 L218.58,237.18 L219.20,237.59 L219.82,238.00 L220.44,238.42 L221.05,238.84 L221.67,239.26 L222.28,239.68 L222.89,240.10 L223.50,240.53 L224.11,240.96 L224.72,241.39 L225.32,241.82 L225.93,242.25 L226.53,242.69 L227.13,243.13 L227.73,243.57 L228.33,244.02 L228.92,244.46 L229.52,244.91 L230.11,245.36 L230.70,245.82 L231.28,246.27 L231.87,246.73 L232.45,247.20 L233.04,247.66 L233.62,248.13 L234.19,248.60 L234.77,249.07 L235.34,249.55 L235.91,250.03 L236.48,250.51 L237.04,251.00 L237.60,251.49 L238.16,251.98 L238.71,252.48 L239.26,252.98 L239.81,253.48 L240.35,253.99 L240.89,254.50 L241.42,255.02 L241.95,255.54 L242.48,256.06 L243.00,256.59 L243.52,257.12 L244.03,257.65 L244.53,258.19 L245.04,258.74 L245.53,259.29 L246.02,259.84 L246.51,260.40 L246.99,260.96 L247.46,261.53 L247.92,262.10 L248.39,262.68 L248.84,263.26 L249.29,263.84 L249.73,264.44 L250.16,265.03 L250.59,265.63 L251.01,266.24 L251.42,266.85 L251.83,267.47 L252.23,268.10 L252.62,268.73 L253.00,269.36 L253.37,270.00 L253.74,270.65 L254.10,271.30 L254.45,271.96 L254.79,272.62 L255.12,273.29 L255.45,273.97 L255.76,274.65 L256.07,275.34 L256.36,276.04 L256.65,276.74 L256.93,277.45 L257.20,278.16 L257.45,278.88 L257.70,279.61 L257.94,280.35 L258.17,281.09 L258.38,281.84 L258.59,282.59 L258.79,283.36 L258.97,284.13 L259.15,284.91 L259.31,285.69 L259.46,286.48 L259.60,287.28" stroke="#000" stroke-dasharray="1.25 3.61"/>
<path d="M57.95,46.6 L58.2,54.0" stroke="#ff0000"/>
</g>
<path d="M56.90,285.9 v-5.76 M56.90,7.8 v5.76 M56.9,7.80 h5.76 M335.2,7.80 h-5.76 M112.56,285.9 v-5.76 M112.56,7.8 v5.76 M56.9,63.42 h5.76 M335.2,63.42 h-5.76 M168.22,285.9 v-5.76 M168.22,7.8 v5.76 M56.9,119.04 h5.76 M335.2,119.04 h-5.76 M223.88,285.9 v-5.76 M223.88,7.8 v5.76 M56.9,174.66 h5.76 M335.2,174.66 h-5.76 M279.54,285.9 v-5.76 M279.54,7.8 v5.76 M56.9,230.28 h5.76 M335.2,230.28 h-5.76 M335.20,285.9 v-5.76 M335.20,7.8 v5.76 M56.9,285.90 h5.76 M335.2,285.90 h-5.76" stroke="#000" stroke-width="0.72" fill="none"/>
<rect x="56.9" y="7.8" width="278.30" height="278.10" fill="none" stroke="#000" stroke-width="1.44"/>
<text transform="translate(24.66,12.60) scale(1.0352,1)" font-size="18.39">4.4</text>
<text transform="translate(24.66,68.22) scale(1.0151,1)" font-size="18.57">4.2</text>
<text transform="translate(24.66,123.84) scale(1.0303,1)" font-size="18.57">4.0</text>
<text transform="translate(24.65,179.46) scale(1.0309,1)" font-size="18.57">3.8</text>
<text transform="translate(24.64,235.08) scale(1.0363,1)" font-size="18.57">3.6</text>
<text transform="translate(24.65,290.70) scale(1.0256,1)" font-size="18.57">3.4</text>
<text transform="translate(51.80,304.70) scale(0.9865,1)" font-size="18.57">0</text>
<text transform="translate(101.93,304.70) scale(1.0267,1)" font-size="18.57">20</text>
<text transform="translate(157.74,304.70) scale(1.0194,1)" font-size="18.57">40</text>
<text transform="translate(213.25,304.70) scale(1.0267,1)" font-size="18.57">60</text>
<text transform="translate(268.92,304.70) scale(1.0265,1)" font-size="18.57">80</text>
<text transform="translate(319.19,304.70) scale(1.0345,1)" font-size="18.57">100</text>
<text transform="translate(112.22,328.30) scale(1.0511,1)" font-size="18.17">Percent Discharged</text>
<text transform="translate(13.30,213.37) rotate(-90) scale(1.0555,1)" font-size="18.17">Cell Voltage (V)</text>
<rect x="179.0" y="14.4" width="149.40" height="135.45" fill="#fff" stroke="#000" stroke-width="1.44"/>
<path d="M183.2,24.60 H210.6" stroke="#000" stroke-width="1.44" fill="none"/>
<text transform="translate(220.02,29.70) scale(0.9275,1)" font-size="13.89">OCV</text>
<path d="M183.2,43.45 H210.6" stroke="#ff0000" stroke-width="1.44" stroke-dasharray="8.64 8.64" stroke-dashoffset="-0.85" fill="none"/>
<text transform="translate(219.96,48.49) scale(1.0190,1)" font-size="13.70">Mesoscale 1C</text>
<path d="M183.2,62.30 H210.6" stroke="#ff0000" stroke-width="1.44" stroke-dasharray="1.44 4.32" stroke-dashoffset="-0.85" fill="none"/>
<text transform="translate(219.95,67.28) scale(1.0229,1)" font-size="13.70">Mesoscale 10C</text>
<path d="M183.2,81.15 H210.6" stroke="#008000" stroke-width="1.44" stroke-dasharray="8.64 8.64" stroke-dashoffset="-0.85" fill="none"/>
<text transform="translate(220.01,86.07) scale(0.9709,1)" font-size="13.89">P2D 1C</text>
<path d="M183.2,100.00 H210.6" stroke="#008000" stroke-width="1.44" stroke-dasharray="1.44 4.32" stroke-dashoffset="-0.85" fill="none"/>
<text transform="translate(220.00,104.86) scale(0.9863,1)" font-size="13.89">P2D 10C</text>
<path d="M183.2,118.85 H210.6" stroke="#000" stroke-width="1.44" stroke-dasharray="8.64 8.64" stroke-dashoffset="-0.85" fill="none"/>
<text transform="translate(219.91,123.65) scale(1.0603,1)" font-size="13.70">Experiment 1C</text>
<path d="M183.2,137.70 H210.6" stroke="#000" stroke-width="1.44" stroke-dasharray="1.44 4.32" stroke-dashoffset="-0.85" fill="none"/>
<text transform="translate(219.91,142.44) scale(1.0618,1)" font-size="13.70">Experiment 10C</text>
</svg></body></html>
